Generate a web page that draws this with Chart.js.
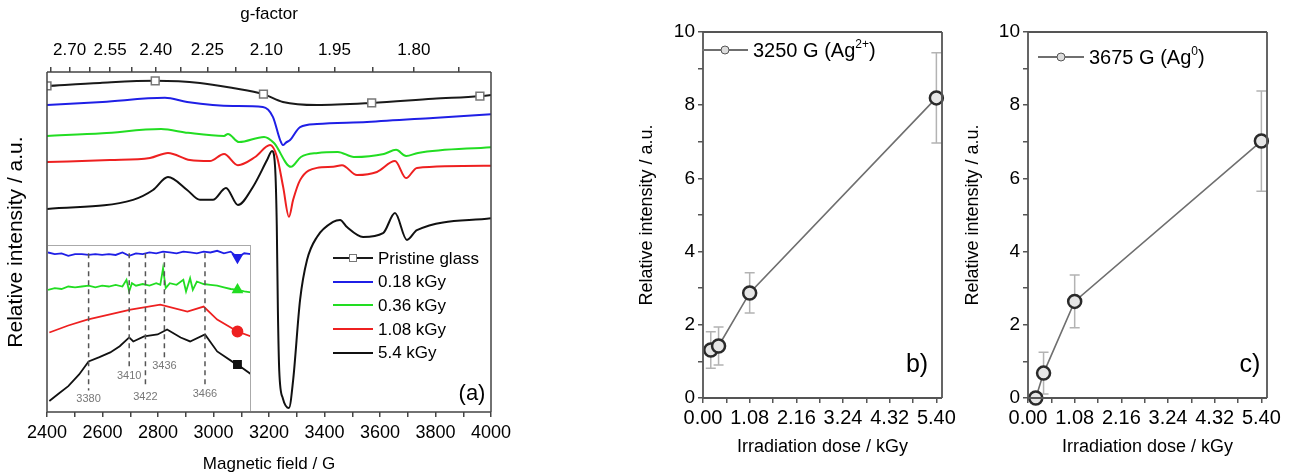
<!DOCTYPE html>
<html>
<head>
<meta charset="utf-8">
<title>EPR spectra and dose response</title>
<script src="https://cdn.jsdelivr.net/npm/chart.js@4.4.0/dist/chart.umd.min.js"></script>
<style>
  body { margin: 0; background: #fff; font-family: "Liberation Sans", Arial, sans-serif; }
  #page { position: relative; width: 1295px; height: 475px; overflow: hidden; background: #fff; }
  .box { position: absolute; top: 0; height: 475px; }
  .inset { position: absolute; left: 48px; top: 245px; width: 203px; height: 166px; background: #fff; }
  .tag { position: absolute; transform: translate(-50%, -50%); color: #000; white-space: nowrap; line-height: 1; }
  .leg { position: absolute; display: flex; align-items: center; color: #000; white-space: nowrap; line-height: 1; }
  .sym { position: relative; flex: none; }
  .sym .ln { position: absolute; left: 0; right: 0; top: 50%; }
  .sym .mk { position: absolute; left: 50%; top: 50%; transform: translate(-50%, -50%); box-sizing: border-box; }
  sup { font-size: 12px; vertical-align: 9px; line-height: 0; }
</style>
</head>
<body>
<div id="page">
  <div class="box" style="left:0;width:600px"><canvas id="chartA" width="600" height="475"></canvas></div>
  <div class="inset"><canvas id="chartInset" width="203" height="166"></canvas></div>
  <div class="box" style="left:600px;width:362px"><canvas id="chartB" width="362" height="475"></canvas></div>
  <div class="box" style="left:962px;width:333px"><canvas id="chartC" width="333" height="475"></canvas></div>
</div>
<script>
// ---- panel (a): EPR spectra, field in G, intensity in a.u. (offset traces) ----
const G_CONST = 6700; // field (G) = G_CONST / g
const fieldTicks = [2400, 2500, 2600, 2700, 2800, 2900, 3000, 3100, 3200, 3300, 3400, 3500, 3600, 3700, 3800, 3900, 4000];
const fieldLabels = [2400, 2600, 2800, 3000, 3200, 3400, 3600, 3800, 4000];
const gTicks = [2.775, 2.70, 2.625, 2.55, 2.475, 2.40, 2.325, 2.25, 2.175, 2.10, 2.025, 1.95, 1.875, 1.80, 1.725];
const gLabels = [2.70, 2.55, 2.40, 2.25, 2.10, 1.95, 1.80];

const pristineField = [2400, 2591, 2790, 2951, 3070, 3180, 3250, 3373, 3570, 3791, 3960, 4000];
const pristineValue = [95.9, 96.8, 97.4, 96.8, 95.3, 93.5, 91.2, 90.3, 90.9, 92.1, 92.9, 93.2];
const pristineMarkers = [2400, 2790, 3180, 3570, 3960];

const dose018Field = [2400, 2600, 2825, 2905, 3070, 3178, 3214, 3240, 3250, 3262, 3276, 3312, 3373, 3553, 3791, 4000];
const dose018Value = [90.3, 91.2, 92.4, 91.2, 90.0, 89.7, 86.8, 80.0, 78.5, 79.3, 80.0, 83.8, 84.7, 85.3, 86.5, 87.6];

const dose036Field = [2400, 2600, 2811, 2908, 3038, 3052, 3092, 3182, 3218, 3279, 3315, 3376, 3448, 3506, 3614, 3658, 3694, 3737, 4000];
const dose036Value = [81.2, 82.0, 83.2, 82.1, 81.2, 81.8, 79.4, 80.9, 79.1, 72.1, 75.0, 76.2, 76.5, 75.0, 75.9, 77.1, 75.3, 76.2, 77.9];

const dose108Field = [2400, 2627, 2771, 2836, 2915, 2987, 3038, 3088, 3150, 3204, 3229, 3251, 3272, 3287, 3312, 3373, 3431, 3463, 3517, 3589, 3654, 3694, 3733, 4000];
const dose108Value = [73.5, 74.1, 74.7, 76.2, 74.1, 73.8, 75.9, 72.6, 75.0, 78.5, 75.0, 66.2, 57.4, 62.4, 68.2, 71.8, 72.1, 72.6, 69.7, 70.6, 73.8, 68.8, 71.8, 72.4];

const dose54Field = [2400, 2710, 2782, 2836, 2905, 2951, 2998, 3045, 3088, 3142, 3193, 3211, 3222, 3228, 3232, 3237, 3250, 3272, 3287, 3312, 3337, 3373, 3431, 3456, 3481, 3539, 3611, 3654, 3697, 3733, 4000];
const dose54Value = [59.7, 62.4, 65.3, 69.1, 65.3, 62.4, 62.4, 65.9, 60.9, 66.2, 74.1, 76.8, 72.0, 55.0, 30.0, 12.0, 4.0, 1.2, 9.4, 33.0, 44.7, 51.5, 55.9, 56.5, 54.4, 51.5, 52.6, 58.5, 50.6, 53.5, 57.0];

const seriesLabels = ['Pristine glass', '0.18 kGy', '0.36 kGy', '1.08 kGy', '5.4 kGy'];
const seriesColors = ['#1a1a1a', '#1f1fe6', '#22dd22', '#ee2020', '#111111'];

// ---- inset: zoom 3350-3500 G ----
const insetMarks = [3380, 3410, 3422, 3436, 3466];
const insetMarkerField = 3490;
const insetBlueField = [3350, 3355, 3360, 3365, 3370, 3375, 3380, 3385, 3390, 3395, 3400, 3405, 3410, 3415, 3420, 3425, 3430, 3435, 3440, 3445, 3450, 3455, 3460, 3465, 3470, 3475, 3480, 3485, 3490, 3495, 3500];
const insetBlueValue = [95.5, 94.5, 95, 93.5, 94.5, 94.5, 94, 94.5, 94, 94.5, 94, 95.5, 93.5, 95, 94.5, 95.5, 95, 96, 95.5, 95, 96, 95.5, 95, 96, 95.5, 96.5, 95, 96, 92.5, 95, 94.5];
const insetGreenField = [3350, 3355, 3360, 3365, 3370, 3375, 3380, 3385, 3390, 3395, 3400, 3405, 3408, 3410, 3412, 3415, 3420, 3425, 3430, 3433, 3435, 3437, 3440, 3445, 3450, 3452, 3455, 3457, 3460, 3465, 3470, 3475, 3480, 3485, 3490, 3495, 3500];
const insetGreenValue = [73, 74, 73.5, 75, 74.5, 75, 75.5, 74.5, 75.5, 75, 76, 75, 79, 72, 77, 75.5, 76.5, 75.5, 77, 76, 86, 74, 77, 76, 79, 72, 80, 73, 78, 76.5, 76, 75.5, 74.5, 73.5, 73, 72, 71.5];
const insetRedField = [3351, 3365, 3379, 3395, 3411, 3433, 3453, 3465, 3475, 3490, 3500];
const insetRedValue = [47.3, 51.5, 55.1, 58.0, 61.1, 64.1, 59.9, 62.9, 55.1, 47.9, 44.9];
const insetBlackField = [3351, 3358, 3365, 3373, 3380, 3388, 3396, 3403, 3410, 3413, 3421, 3431, 3438, 3448, 3455, 3466, 3475, 3487, 3490, 3500];
const insetBlackValue = [6.0, 10.5, 15.0, 22.0, 29.9, 32.5, 35.3, 39.0, 44.3, 41.9, 44.9, 46.1, 49.1, 44.3, 41.9, 46.1, 35.9, 29.3, 28.0, 22.2];

// ---- panels (b) and (c): dose response ----
const doseTicks = [0, 0.54, 1.08, 1.62, 2.16, 2.70, 3.24, 3.78, 4.32, 4.86, 5.40];
const doseLabels = [0, 1.08, 2.16, 3.24, 4.32, 5.40];
const intensityTicks = [0, 1, 2, 3, 4, 5, 6, 7, 8, 9, 10];
const intensityLabels = [0, 2, 4, 6, 8, 10];

const doseB = [0.18, 0.36, 1.08, 5.40];
const intensityB = [1.31, 1.42, 2.87, 8.20];
const errorB = [0.50, 0.52, 0.55, 1.23];

const doseC = [0.18, 0.36, 1.08, 5.40];
const intensityC = [0.0, 0.68, 2.64, 7.02];
const errorC = [0.12, 0.57, 0.72, 1.37];

Chart.defaults.font.family = '"Liberation Sans", Arial, sans-serif';
Chart.defaults.color = '#000';
Chart.defaults.animation = false;

const pts = (xs, ys) => xs.map((x, i) => ({ x: x, y: ys[i] }));
const near = (list, v, tol) => list.some(l => Math.abs(l - v) < tol);

// box around the plot area
const framePlugin = {
  id: 'frame',
  afterDraw(chart, args, opts) {
    const { left, top, right, bottom } = chart.chartArea;
    const ctx = chart.ctx;
    const sides = opts.sides || 'tlrb';
    ctx.save();
    ctx.strokeStyle = opts.color || '#444';
    ctx.lineWidth = opts.width || 1.5;
    ctx.beginPath();
    if (sides.includes('t')) { ctx.moveTo(left, top); ctx.lineTo(right, top); }
    if (sides.includes('r')) { ctx.moveTo(right, top); ctx.lineTo(right, bottom); }
    if (sides.includes('b')) { ctx.moveTo(left, bottom); ctx.lineTo(right, bottom); }
    if (sides.includes('l')) { ctx.moveTo(left, top); ctx.lineTo(left, bottom); }
    ctx.stroke();
    ctx.restore();
  }
};

// vertical error bars from dataset.errors
const errorBarPlugin = {
  id: 'errorBars',
  beforeDatasetsDraw(chart, args, opts) {
    const ctx = chart.ctx;
    const xs = chart.scales.x, ys = chart.scales.y;
    ctx.save();
    ctx.strokeStyle = opts.color || '#aaa';
    ctx.lineWidth = opts.width || 1.5;
    chart.data.datasets.forEach(ds => {
      if (!ds.errors) return;
      ds.data.forEach((p, i) => {
        const e = ds.errors[i];
        const x = xs.getPixelForValue(p.x);
        const y1 = ys.getPixelForValue(p.y - e);
        const y2 = ys.getPixelForValue(p.y + e);
        const c = opts.cap || 5;
        ctx.beginPath();
        ctx.moveTo(x, y1); ctx.lineTo(x, y2);
        ctx.moveTo(x - c, y1); ctx.lineTo(x + c, y1);
        ctx.moveTo(x - c, y2); ctx.lineTo(x + c, y2);
        ctx.stroke();
      });
    });
    ctx.restore();
  }
};

// dashed guide lines and field labels in the inset
const guidePlugin = {
  id: 'guides',
  afterDatasetsDraw(chart, args, opts) {
    const ctx = chart.ctx;
    const xs = chart.scales.x, ys = chart.scales.y;
    ctx.save();
    ctx.strokeStyle = '#555';
    ctx.lineWidth = 1.5;
    ctx.setLineDash([5, 4]);
    ctx.font = '11px "Liberation Sans", Arial, sans-serif';
    ctx.fillStyle = '#777';
    ctx.textAlign = 'center';
    ctx.textBaseline = 'middle';
    opts.marks.forEach((m, i) => {
      const x = xs.getPixelForValue(m);
      ctx.beginPath();
      ctx.moveTo(x, ys.getPixelForValue(opts.top));
      ctx.lineTo(x, ys.getPixelForValue(opts.levels[i]) - 9);
      ctx.stroke();
      ctx.fillText(String(m), x, ys.getPixelForValue(opts.levels[i]));
    });
    ctx.restore();
  }
};

const tickFont = { size: 18 };
const titleFont = { size: 17 };

// ---------- panel (a) ----------
const spectra = [
  { f: pristineField, v: pristineValue },
  { f: dose018Field, v: dose018Value },
  { f: dose036Field, v: dose036Value },
  { f: dose108Field, v: dose108Value },
  { f: dose54Field, v: dose54Value }
];

new Chart(document.getElementById('chartA'), {
  type: 'line',
  data: {
    datasets: spectra.map((s, i) => ({
      label: seriesLabels[i],
      data: pts(s.f, s.v),
      borderColor: seriesColors[i],
      borderWidth: 2,
      cubicInterpolationMode: 'monotone',
      tension: 0.4,
      pointStyle: 'rect',
      pointRadius: i === 0 ? (c => (c.raw && near(pristineMarkers, c.raw.x, 0.5) ? 5.5 : 0)) : 0,
      pointBackgroundColor: '#fff',
      pointBorderColor: '#777',
      pointBorderWidth: 1.5
    }))
  },
  options: {
    responsive: false,
    events: [],
    layout: { padding: { left: 0, right: 109, top: 0, bottom: 0 } },
    plugins: { legend: { display: false }, tooltip: { enabled: false }, frame: { color: '#444', width: 1.5 } },
    scales: {
      x: {
        type: 'linear', position: 'bottom', min: 2400, max: 4000,
        afterBuildTicks: s => { s.ticks = fieldTicks.map(v => ({ value: v })); },
        afterFit: s => { s.height = 63; },
        ticks: { autoSkip: false, maxRotation: 0, padding: 5, font: tickFont,
          callback: v => (near(fieldLabels, v, 0.5) ? String(v) : '') },
        grid: { drawOnChartArea: false, drawTicks: true, tickLength: 5, color: '#444', lineWidth: 1.5 },
        border: { display: false },
        title: { display: true, text: 'Magnetic field / G', font: titleFont, padding: { top: 0, bottom: 0 } }
      },
      x2: {
        type: 'linear', position: 'top', min: 2400, max: 4000,
        afterBuildTicks: s => { s.ticks = gTicks.map(g => ({ value: G_CONST / g })); },
        afterFit: s => { s.height = 72; },
        ticks: { autoSkip: false, maxRotation: 0, padding: 6, font: { size: 17 },
          callback: v => {
            const g = G_CONST / v;
            const hit = gLabels.find(l => Math.abs(l - g) < 1e-6);
            return hit ? hit.toFixed(2) : '';
          } },
        grid: { drawOnChartArea: false, drawTicks: true, tickLength: 5, color: '#444', lineWidth: 1.5 },
        border: { display: false },
        title: { display: true, text: 'g-factor', font: titleFont, padding: { top: 4, bottom: 0 } }
      },
      y: {
        min: 0, max: 100,
        afterFit: s => { s.width = 47; },
        ticks: { display: false },
        grid: { display: false },
        border: { display: false },
        title: { display: true, text: 'Relative intensity / a.u.', font: { size: 21 }, padding: { top: 4, bottom: 0 } }
      }
    }
  },
  plugins: [framePlugin]
});

// ---------- inset ----------
const insetSeries = [
  { f: insetBlueField, v: insetBlueValue, color: seriesColors[1], style: 'triangle', rot: 180 },
  { f: insetGreenField, v: insetGreenValue, color: seriesColors[2], style: 'triangle', rot: 0 },
  { f: insetRedField, v: insetRedValue, color: seriesColors[3], style: 'circle', rot: 0 },
  { f: insetBlackField, v: insetBlackValue, color: seriesColors[4], style: 'rect', rot: 0 }
];

new Chart(document.getElementById('chartInset'), {
  type: 'line',
  data: {
    datasets: insetSeries.map(s => ({
      data: pts(s.f, s.v),
      borderColor: s.color,
      borderWidth: 1.8,
      tension: 0,
      pointStyle: s.style,
      rotation: s.rot,
      pointRadius: c => (c.raw && Math.abs(c.raw.x - insetMarkerField) < 0.5 ? 5 : 0),
      pointBackgroundColor: s.color,
      pointBorderColor: s.color
    }))
  },
  options: {
    responsive: false,
    events: [],
    layout: { padding: 0 },
    plugins: {
      legend: { display: false }, tooltip: { enabled: false },
      frame: { color: '#aaa', width: 2, sides: 'tr' },
      guides: { marks: insetMarks, top: 95, levels: [7, 21, 8.5, 27, 10] }
    },
    scales: {
      x: { type: 'linear', min: 3350, max: 3500, display: false },
      y: { min: 0, max: 100, display: false }
    }
  },
  plugins: [framePlugin, guidePlugin]
});

// ---------- panels (b) and (c) ----------
function doseChart(id, dose, vals, errs, padLeft, yWidth, padRight, titlePad) {
  return new Chart(document.getElementById(id), {
    type: 'line',
    data: {
      datasets: [{
        data: pts(dose, vals),
        errors: errs,
        borderColor: '#6f6f6f',
        borderWidth: 1.6,
        tension: 0,
        clip: false,
        pointStyle: 'circle',
        pointRadius: 6.5,
        pointBorderWidth: 2.5,
        pointBorderColor: '#2a2a2a',
        pointBackgroundColor: '#e6e6e6'
      }]
    },
    options: {
      responsive: false,
      events: [],
      layout: { padding: { left: padLeft, right: padRight, top: 32, bottom: 0 } },
      plugins: {
        legend: { display: false }, tooltip: { enabled: false },
        frame: { color: '#555', width: 1.8 },
        errorBars: { color: '#b3b3b3', width: 1.5, cap: 5 }
      },
      scales: {
        x: {
          type: 'linear', min: 0, max: 5.53,
          afterBuildTicks: s => { s.ticks = doseTicks.map(v => ({ value: v })); },
          afterFit: s => { s.height = 77; },
          ticks: { autoSkip: false, maxRotation: 0, padding: 3, font: { size: 20 },
            callback: v => (near(doseLabels, v, 1e-6) ? v.toFixed(2) : '') },
          grid: { drawOnChartArea: false, drawTicks: true, tickLength: 5, color: '#555', lineWidth: 1.5 },
          border: { display: false },
          title: { display: true, text: 'Irradiation dose / kGy', font: { size: 18 }, padding: { top: 0, bottom: 17 } }
        },
        y: {
          min: 0, max: 10,
          afterBuildTicks: s => { s.ticks = intensityTicks.map(v => ({ value: v })); },
          afterFit: s => { s.width = yWidth; },
          ticks: { autoSkip: false, padding: 3, font: { size: 19 },
            callback: v => (intensityLabels.includes(v) ? String(v) : '') },
          grid: { drawOnChartArea: false, drawTicks: true, tickLength: 5, color: '#555', lineWidth: 1.5 },
          border: { display: false },
          title: { display: true, text: 'Relative intensity / a.u.', font: { size: 18 }, padding: { top: titlePad, bottom: 0 } }
        }
      }
    },
    plugins: [framePlugin, errorBarPlugin]
  });
}

doseChart('chartB', doseB, intensityB, errorB, 30, 73, 20, 6);
doseChart('chartC', doseC, intensityC, errorC, 0, 66, 28, 0);

// ---------- legends and panel tags (HTML text) ----------
const page = document.getElementById('page');
function addTag(html, x, y, size) {
  const d = document.createElement('div');
  d.className = 'tag';
  d.style.left = x + 'px';
  d.style.top = y + 'px';
  d.style.fontSize = size + 'px';
  d.innerHTML = html;
  page.appendChild(d);
}
function addLegend(html, x, y, size, lineW, lineColor, lineH, mark) {
  const row = document.createElement('div');
  row.className = 'leg';
  row.style.left = x + 'px';
  row.style.top = (y - 12) + 'px';
  row.style.height = '24px';
  row.style.fontSize = size + 'px';
  const sym = document.createElement('div');
  sym.className = 'sym';
  sym.style.width = lineW + 'px';
  sym.style.height = '24px';
  sym.style.marginRight = '5px';
  const ln = document.createElement('div');
  ln.className = 'ln';
  ln.style.height = lineH + 'px';
  ln.style.marginTop = (-lineH / 2) + 'px';
  ln.style.background = lineColor;
  sym.appendChild(ln);
  if (mark) {
    const mk = document.createElement('div');
    mk.className = 'mk';
    mk.style.width = mark.size + 'px';
    mk.style.height = mark.size + 'px';
    mk.style.background = mark.fill;
    mk.style.border = mark.border;
    mk.style.borderRadius = mark.round ? '50%' : '0';
    sym.appendChild(mk);
  }
  row.appendChild(sym);
  const t = document.createElement('span');
  t.innerHTML = html;
  row.appendChild(t);
  page.appendChild(row);
}

seriesLabels.forEach((lab, i) => {
  addLegend(lab, 333, 258 + i * 23.7, 17, 40, seriesColors[i], 2,
    i === 0 ? { size: 8, fill: '#fff', border: '1.5px solid #777', round: false } : null);
});
addTag('(a)', 472, 393, 22);
addLegend('3250 G (Ag<sup>2+</sup>)', 702, 50, 20, 46, '#6f6f6f', 1.5,
  { size: 9, fill: '#ddd', border: '1.8px solid #555', round: true });
addTag('b)', 917, 363, 25);
addLegend('3675 G (Ag<sup>0</sup>)', 1038, 57, 20, 46, '#6f6f6f', 1.5,
  { size: 9, fill: '#ddd', border: '1.8px solid #555', round: true });
addTag('c)', 1250, 363, 25);
</script>
</body>
</html>
